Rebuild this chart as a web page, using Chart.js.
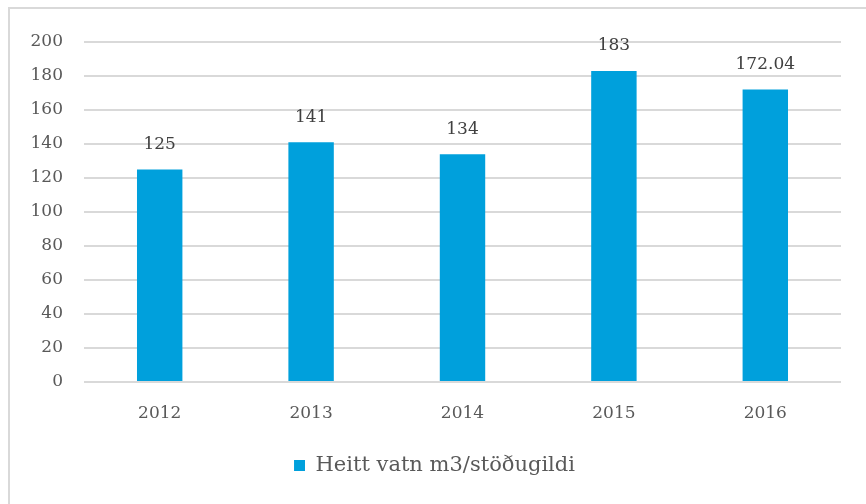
<!DOCTYPE html>
<html><head><meta charset="utf-8">
<script src="https://cdn.jsdelivr.net/npm/chart.js@4/dist/chart.umd.min.js"></script>
<style>html,body{margin:0;padding:0;background:#fff;}#wrap{width:866px;height:504px;position:relative;}</style>
</head><body><div id="wrap"><canvas id="c" width="866" height="504"></canvas></div>
<script>
const categories = ["2012", "2013", "2014", "2015", "2016"];
const values = [125, 141, 134, 183, 172.04];
const valueLabels = ["125", "141", "134", "183", "172.04"];
const seriesName = "Heitt vatn m3/stöðugildi";
const yTicks = [0, 20, 40, 60, 80, 100, 120, 140, 160, 180, 200];

const FONT = "'DejaVu Serif', 'Liberation Serif', serif";
const frame = {
  id: 'frame',
  beforeDraw(chart) {
    const ctx = chart.ctx;
    ctx.save();
    ctx.strokeStyle = '#d9d9d9';
    ctx.lineWidth = 2;
    ctx.strokeRect(9, 8, 900, 600);
    ctx.restore();
  }
};
const valueLabelPlugin = {
  id: 'valueLabels',
  afterDatasetsDraw(chart) {
    const ctx = chart.ctx;
    const meta = chart.getDatasetMeta(0);
    ctx.save();
    ctx.font = "17px " + FONT;
    ctx.fillStyle = '#404040';
    ctx.textAlign = 'center';
    ctx.textBaseline = 'middle';
    meta.data.forEach((bar, i) => {
      const p = bar.getProps(['x', 'y'], true);
      ctx.fillText(valueLabels[i], p.x, p.y - 25);
    });
    ctx.restore();
  }
};
new Chart(document.getElementById('c'), {
  type: 'bar',
  data: {
    labels: categories,
    datasets: [{
      label: seriesName,
      data: values,
      backgroundColor: '#00A0DC',
      borderWidth: 0,
      categoryPercentage: 1,
      barPercentage: 0.3
    }]
  },
  options: {
    responsive: false,
    animation: false,
    devicePixelRatio: 1,
    layout: { padding: { top: 42, right: 25, bottom: 18, left: 28 } },
    plugins: {
      tooltip: { enabled: false },
      legend: {
        position: 'bottom',
        labels: {
          boxWidth: 11, boxHeight: 11,
          color: '#595959',
          font: { family: FONT, size: 21 },
          padding: 10
        }
      }
    },
    scales: {
      x: {
        grid: { display: false, drawTicks: false },
        border: { display: false },
        ticks: { color: '#595959', font: { family: FONT, size: 17 }, padding: 21 },
        afterFit(s) { s.height = 63; }
      },
      y: {
        min: 0, max: 200,
        afterBuildTicks(s) { s.ticks = yTicks.map(v => ({ value: v })); },
        grid: { color: '#d9d9d9', lineWidth: 2, drawTicks: false },
        border: { display: false },
        ticks: { color: '#595959', font: { family: FONT, size: 17 }, padding: 21 },
        afterFit(s) { s.width = 56; }
      }
    }
  },
  plugins: [frame, valueLabelPlugin]
});
</script></body></html>
